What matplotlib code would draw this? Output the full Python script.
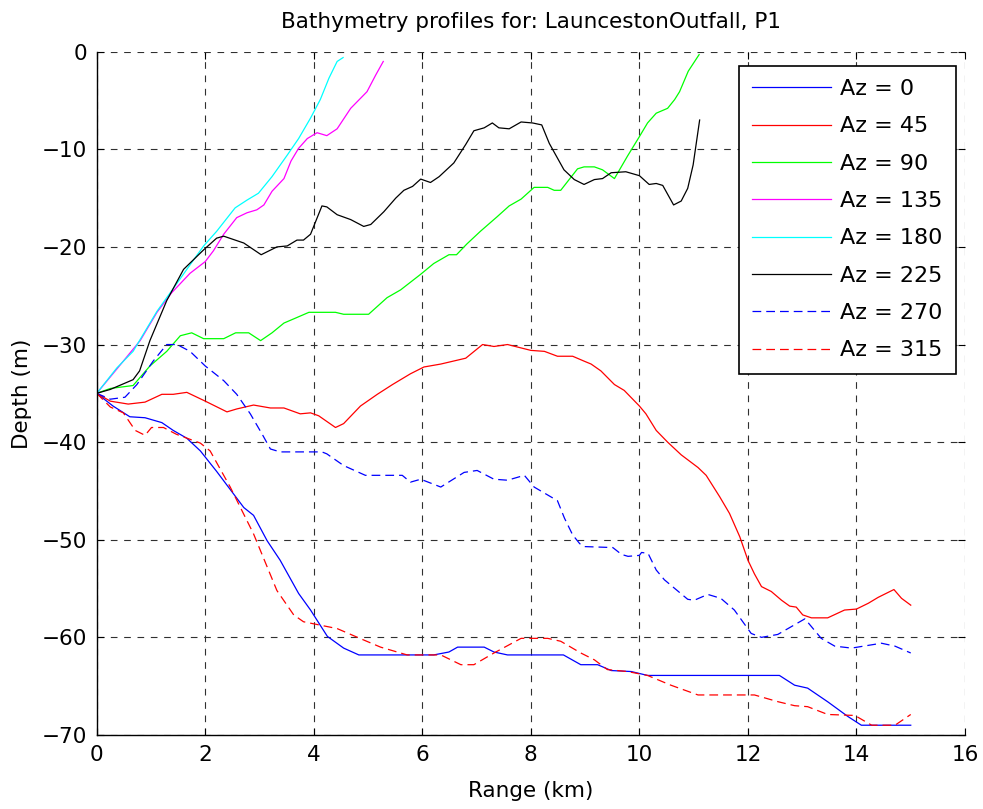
import matplotlib
matplotlib.use("Agg")
import matplotlib.pyplot as plt

plt.rcParams['font.family'] = ['DejaVu Sans']

# ---- data ----
range_az0 = [0, 0.3, 0.61, 0.89, 1.2, 1.41, 1.66, 1.91, 2.21, 2.71, 2.89, 3.14, 3.38, 3.72, 3.94, 4.25, 4.55, 4.83,
             6.21, 6.49, 6.65, 7.14, 7.32, 7.57, 8.6, 8.92, 9.23, 9.48, 9.85, 10.15, 12.58, 12.86, 13.1, 13.47,
             13.84, 14.09, 15.0]
depth_az0 = [-35, -36.3, -37.4, -37.5, -38.0, -38.8, -39.6, -40.9, -43.0, -46.7, -47.5, -50.1, -52.1, -55.5, -57.2,
             -59.9, -61.1, -61.8, -61.8, -61.5, -61.0, -61.0, -61.5, -61.8, -61.8, -62.8, -62.8, -63.4, -63.5,
             -63.9, -63.9, -64.9, -65.2, -66.6, -68.1, -69.0, -69.0]

range_az45 = [0, 0.25, 0.58, 0.89, 1.2, 1.41, 1.66, 2.0, 2.4, 2.58, 2.89, 3.2, 3.45, 3.75, 3.94, 4.09, 4.4, 4.55,
              4.86, 5.17, 5.45, 5.78, 6.03, 6.34, 6.8, 7.11, 7.32, 7.57, 8.0, 8.25, 8.49, 8.77, 8.98, 9.11, 9.29,
              9.54, 9.72, 10.0, 10.12, 10.31, 10.52, 10.77, 11.08, 11.23, 11.48, 11.66, 11.85, 12.0, 12.12, 12.25,
              12.43, 12.62, 12.77, 12.89, 13.01, 13.17, 13.47, 13.78, 14.0, 14.22, 14.4, 14.69, 14.83, 15.0]
depth_az45 = [-35, -35.8, -36.1, -35.9, -35.1, -35.1, -34.9, -35.8, -36.9, -36.6, -36.2, -36.5, -36.5, -37.1, -37.0,
              -37.3, -38.5, -38.1, -36.3, -35.1, -34.1, -33.0, -32.3, -32.0, -31.4, -30.0, -30.2, -30.0, -30.6,
              -30.7, -31.2, -31.2, -31.7, -32.0, -32.7, -34.1, -34.7, -36.3, -37.1, -38.8, -40.0, -41.3, -42.6,
              -43.4, -45.6, -47.3, -49.7, -52.1, -53.5, -54.8, -55.3, -56.2, -56.8, -56.9, -57.7, -58.0, -58.0,
              -57.2, -57.1, -56.5, -55.9, -55.1, -56.0, -56.7]

range_az90 = [0, 0.25, 0.67, 0.98, 1.29, 1.54, 1.75, 1.97, 2.34, 2.56, 2.8, 3.02, 3.23, 3.45, 3.66, 3.91, 4.4, 4.55,
              5.01, 5.35, 5.6, 5.97, 6.21, 6.49, 6.63, 6.82, 7.07, 7.38, 7.6, 7.82, 8.06, 8.31, 8.43, 8.55, 8.86,
              8.98, 9.17, 9.32, 9.54, 9.78, 10.0, 10.15, 10.31, 10.52, 10.65, 10.74, 10.9, 11.1]
depth_az90 = [-35, -34.5, -34.2, -32.2, -30.7, -29.1, -28.8, -29.4, -29.4, -28.8, -28.8, -29.6, -28.8, -27.8, -27.3,
              -26.7, -26.7, -26.9, -26.9, -25.2, -24.4, -22.8, -21.7, -20.8, -20.8, -19.7, -18.4, -16.9, -15.8,
              -15.1, -13.9, -13.9, -14.2, -14.2, -12.0, -11.8, -11.8, -12.1, -13.0, -10.7, -8.7, -7.3, -6.3, -5.8,
              -4.9, -4.1, -2.0, -0.3]

range_az135 = [0, 0.49, 0.8, 1.11, 1.38, 1.72, 2.0, 2.15, 2.34, 2.58, 2.77, 2.95, 3.08, 3.23, 3.45, 3.58, 3.72,
               3.88, 4.06, 4.24, 4.43, 4.68, 4.98, 5.14, 5.28]
depth_az135 = [-35, -31.7, -29.6, -26.7, -24.7, -22.7, -21.5, -20.4, -18.7, -17.0, -16.5, -16.2, -15.7, -14.3,
               -13.0, -11.2, -9.9, -8.9, -8.3, -8.6, -7.9, -5.8, -4.1, -2.4, -1.0]

range_az180 = [0, 0.37, 0.67, 1.11, 1.38, 1.66, 1.97, 2.21, 2.55, 2.77, 2.98, 3.23, 3.51, 3.72, 3.94, 4.12, 4.28,
               4.43, 4.54]
depth_az180 = [-35, -32.4, -30.7, -26.6, -24.5, -22.3, -19.9, -18.4, -16.0, -15.2, -14.5, -12.8, -10.6, -8.9, -6.8,
               -4.9, -2.7, -1.0, -0.6]

range_az225 = [0, 0.25, 0.67, 0.79, 0.98, 1.29, 1.6, 1.97, 2.21, 2.34, 2.71, 3.03, 3.32, 3.51, 3.69, 3.81, 3.94,
               4.15, 4.24, 4.43, 4.68, 4.92, 5.05, 5.29, 5.51, 5.66, 5.82, 5.97, 6.15, 6.31, 6.58, 6.8, 6.95, 7.14,
               7.29, 7.41, 7.6, 7.82, 8.03, 8.2, 8.34, 8.61, 8.8, 8.98, 9.17, 9.32, 9.48, 9.75, 10.0, 10.18, 10.31,
               10.43, 10.63, 10.77, 10.89, 10.99, 11.11]
depth_az225 = [-35, -34.6, -33.6, -32.7, -29.6, -25.5, -22.3, -20.3, -19.1, -18.9, -19.6, -20.8, -20.0, -19.9,
               -19.3, -19.3, -18.7, -15.8, -15.9, -16.7, -17.2, -17.9, -17.7, -16.4, -15.0, -14.2, -13.8, -13.05,
               -13.4, -12.8, -11.4, -9.5, -8.1, -7.8, -7.3, -7.8, -7.9, -7.2, -7.3, -7.5, -9.4, -12.1, -13.1,
               -13.6, -13.1, -13.0, -12.4, -12.3, -12.7, -13.6, -13.5, -13.7, -15.7, -15.3, -14.0, -11.6, -7.0]

range_az270 = [0, 0.25, 0.52, 0.74, 1.04, 1.29, 1.48, 1.72, 2.0, 2.34, 2.58, 2.83, 3.05, 3.2, 3.38, 4.15, 4.24,
               4.55, 4.95, 5.63, 5.78, 5.97, 6.34, 6.77, 7.01, 7.32, 7.57, 7.88, 8.06, 8.49, 8.62, 8.77, 8.9, 8.99,
               9.51, 9.67, 9.79, 10.0, 10.04, 10.16, 10.31, 10.46, 10.89, 11.01, 11.26, 11.5, 11.75, 12.06, 12.25,
               12.55, 13.05, 13.35, 13.6, 13.91, 14.46, 14.71, 15.0]
depth_az270 = [-35, -35.6, -35.4, -34.1, -31.7, -30.0, -30.0, -30.7, -32.2, -33.7, -35.1, -37.1, -39.2, -40.7,
               -41.0, -41.0, -41.2, -42.4, -43.4, -43.4, -44.1, -43.8, -44.6, -43.1, -42.9, -43.8, -43.9, -43.4,
               -44.6, -46.0, -47.8, -49.5, -50.4, -50.7, -50.8, -51.5, -51.7, -51.6, -51.3, -51.4, -53.1, -54.1,
               -56.1, -56.2, -55.6, -56.0, -57.2, -59.6, -60.0, -59.7, -58.1, -60.1, -60.9, -61.1, -60.6, -60.9,
               -61.6]

range_az315 = [0, 0.25, 0.49, 0.71, 0.89, 1.01, 1.23, 1.47, 1.91, 2.09, 2.46, 2.89, 3.32, 3.63, 3.81, 4.43, 4.89,
               5.23, 5.72, 6.34, 6.71, 6.95, 7.32, 7.82, 8.31, 8.55, 8.92, 9.17, 9.41, 9.78, 10.15, 10.58, 11.08,
               12.12, 12.56, 12.86, 13.1, 13.47, 13.97, 14.28, 14.71, 15.0]
depth_az315 = [-35, -36.4, -37.0, -38.8, -39.3, -38.5, -38.5, -39.2, -40.1, -40.9, -44.6, -49.4, -55.2, -57.7,
               -58.4, -59.1, -60.2, -61.0, -61.8, -61.8, -62.8, -62.8, -61.6, -60.1, -60.1, -60.4, -61.6, -62.3,
               -63.3, -63.5, -63.9, -64.9, -65.9, -65.9, -66.6, -67.0, -67.1, -67.9, -68.0, -69.0, -69.0, -67.9]

labels = ['Az = 0', 'Az = 45', 'Az = 90', 'Az = 135', 'Az = 180', 'Az = 225', 'Az = 270', 'Az = 315']
x_ticks = [0, 2, 4, 6, 8, 10, 12, 14, 16]
y_ticks = [-70, -60, -50, -40, -30, -20, -10, 0]

series = [
    (range_az0, depth_az0, '#0000ff', '-'),
    (range_az45, depth_az45, '#ff0000', '-'),
    (range_az90, depth_az90, '#00ff00', '-'),
    (range_az135, depth_az135, '#ff00ff', '-'),
    (range_az180, depth_az180, '#00ffff', '-'),
    (range_az225, depth_az225, '#000000', '-'),
    (range_az270, depth_az270, '#0000ff', '--'),
    (range_az315, depth_az315, '#ff0000', '--'),
]

fig = plt.figure(figsize=(9.83, 8.09), dpi=100)
ax = fig.add_axes([0.0984, 0.0915, 0.8833, 0.8446])

for (xs, ys, col, ls), lab in zip(series, labels):
    if ls == '--':
        ax.plot(xs, ys, color=col, lw=0.9, dashes=(7, 4), label=lab)
    else:
        ax.plot(xs, ys, color=col, lw=0.9, label=lab)

ax.set_xlim(0, 16)
ax.set_ylim(-70, 0)
ax.set_xticks(x_ticks)
ax.set_yticks(y_ticks)
ax.grid(True, color='#303030', linestyle=(0, (6, 6)), linewidth=0.8)
ax.set_axisbelow(True)
ax.tick_params(direction='in', length=5, width=0.8, top=True, right=True, labelsize=15.5, pad=7)
for s in ['top', 'right']:
    ax.spines[s].set_visible(False)
for s in ['left', 'bottom']:
    ax.spines[s].set_linewidth(1.0)

ax.set_title('Bathymetry profiles for: LauncestonOutfall, P1', fontsize=15.5, pad=17)
ax.set_xlabel('Range (km)', fontsize=15.5, labelpad=12)
ax.set_ylabel('Depth (m)', fontsize=15.5, labelpad=7)

leg = ax.legend(loc='upper right', bbox_to_anchor=(0.9896, 0.9795), borderaxespad=0, fontsize=16,
                handlelength=3.56, handletextpad=0.4, labelspacing=0.78, borderpad=0.6,
                fancybox=False, framealpha=1, edgecolor='black')
leg.get_frame().set_linewidth(1.2)

fig.savefig('out.png', dpi=100)
